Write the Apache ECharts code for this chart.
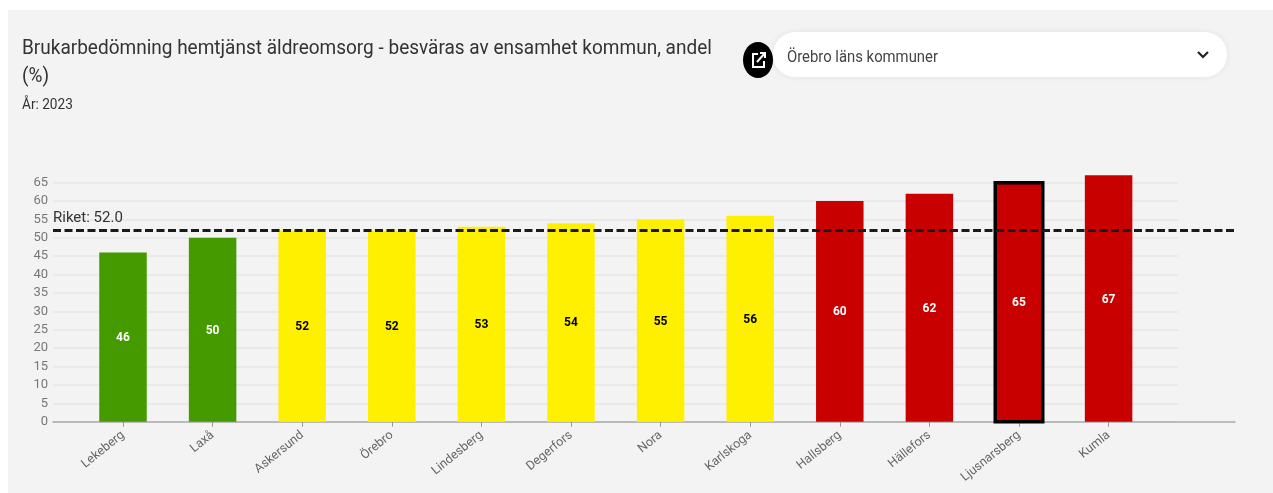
<!DOCTYPE html>
<html>
<head>
<meta charset="utf-8">
<title>Brukarbedömning hemtjänst</title>
<script src="https://cdn.jsdelivr.net/npm/echarts@6/dist/echarts.min.js"></script>
<style>
  html, body { margin: 0; padding: 0; background: #fff; }
  #chart { width: 1273px; height: 493px; }
</style>
</head>
<body>
<div id="chart"></div>
<script>
var kommuner = ['Lekeberg', 'Laxå', 'Askersund', 'Örebro', 'Lindesberg', 'Degerfors', 'Nora', 'Karlskoga', 'Hallsberg', 'Hällefors', 'Ljusnarsberg', 'Kumla'];
var andel = [46, 50, 52, 52, 53, 54, 55, 56, 60, 62, 65, 67];
var farger = ['#459a00', '#459a00', '#fff000', '#fff000', '#fff000', '#fff000', '#fff000', '#fff000', '#c80000', '#c80000', '#c80000', '#c80000'];
var etikettFarger = ['#fff', '#fff', '#000', '#000', '#000', '#000', '#000', '#000', '#fff', '#fff', '#fff', '#fff'];
var valdKommun = 'Ljusnarsberg';
var riket = 52.0;
var titelRad1 = 'Brukarbedömning hemtjänst äldreomsorg - besväras av ensamhet kommun, andel';
var titelRad2 = '(%)';
var undertitel = 'År: 2023';
var dropdownText = 'Örebro läns kommuner';

var font = 'Roboto, sans-serif';
var barBredd = 47.5;
// same vertical extent for all three grids, 0 at y=421.7 and 70 at y=164.3
var gridTop = 164.3, gridBottom = 493 - 421.7;

var barData = andel.map(function (v, i) {
  return {
    value: v,
    itemStyle: { color: farger[i] },
    label: { color: etikettFarger[i] }
  };
});

var valdData = [];
kommuner.forEach(function (k, i) {
  if (k === valdKommun) valdData.push([i, andel[i]]);
});

// the picture is a bit squeezed sideways, so the texts get a scaleX
function texten(text, x, y, size, sx, fill) {
  return {
    type: 'text', z: 6, x: x, y: y, scaleX: sx,
    style: { text: text, fontFamily: font, fontSize: size, fill: fill, verticalAlign: 'middle' }
  };
}

var option = {
  animation: false,
  backgroundColor: '#fff',
  grid: [
    // gridlines, a bit wider than the bars
    { left: 53, width: 1125, top: gridTop, bottom: gridBottom },
    // bars
    { left: 78.2, width: 1075.2, top: gridTop, bottom: gridBottom },
    // baseline and riket line, the full width
    { left: 53, width: 1182, top: gridTop, bottom: gridBottom }
  ],
  xAxis: [
    { gridIndex: 0, type: 'value', min: 0, max: 1, show: false },
    {
      gridIndex: 1, type: 'category', data: kommuner,
      axisLine: { show: false },
      axisTick: { show: true, alignWithLabel: true, length: 5, lineStyle: { color: '#999' } },
      axisLabel: { interval: 0, rotate: 39, margin: 12, fontFamily: font, fontSize: 12.5, color: '#666' }
    },
    {
      gridIndex: 2, type: 'value', min: 0, max: 1,
      axisLine: { show: true, onZero: false, lineStyle: { color: '#aaa', width: 1.5 } },
      axisTick: { show: false }, axisLabel: { show: false }, splitLine: { show: false }
    }
  ],
  yAxis: [
    {
      gridIndex: 0, type: 'value', min: 0, max: 70, interval: 5,
      axisLine: { show: false }, axisTick: { show: false },
      axisLabel: {
        margin: 5, fontFamily: font, fontSize: 13, color: '#777',
        formatter: function (v) { return v > 65 ? '' : v; }
      },
      splitLine: { showMaxLine: false, lineStyle: { color: '#e6e6e6', width: 1.5 } }
    },
    { gridIndex: 1, type: 'value', min: 0, max: 70, show: false },
    { gridIndex: 2, type: 'value', min: 0, max: 70, show: false }
  ],
  series: [
    {
      type: 'bar', xAxisIndex: 1, yAxisIndex: 1, barWidth: barBredd, data: barData, z: 3,
      label: { show: true, position: 'inside', fontFamily: font, fontSize: 12, fontWeight: 'bold', offset: [0, 1] }
    },
    {
      // black frame round the selected municipality
      type: 'custom', xAxisIndex: 1, yAxisIndex: 1, z: 4, clip: false, data: valdData,
      renderItem: function (params, api) {
        var topp = api.coord([api.value(0), api.value(1)]);
        var bas = api.coord([api.value(0), 0]);
        return {
          type: 'rect',
          shape: { x: topp[0] - barBredd / 2, y: topp[1], width: barBredd, height: bas[1] - topp[1] },
          style: { fill: 'none', stroke: '#000', lineWidth: 3.5 }
        };
      }
    },
    {
      type: 'line', xAxisIndex: 2, yAxisIndex: 2, symbol: 'none', z: 5,
      data: [[0, riket], [1, riket]],
      lineStyle: { color: '#1a1a1a', width: 3, type: [8, 3.5] },
      markPoint: {
        symbolSize: 0,
        data: [{ coord: [0, riket], value: 'Riket: ' + riket.toFixed(1) }],
        label: { show: true, position: 'right', offset: [-5, -12], fontFamily: font, fontSize: 15, color: '#333' }
      }
    }
  ],
  graphic: [
    { type: 'rect', z: -10, shape: { x: 8, y: 10, width: 1265, height: 483 }, style: { fill: '#f3f3f3' } },
    texten(titelRad1, 22, 49, 21, 0.905, '#333'),
    texten(titelRad2, 22, 77, 21, 0.905, '#333'),
    texten(undertitel, 22, 105, 15.5, 0.88, '#333'),
    {
      type: 'rect', z: 5,
      shape: { x: 773, y: 32, width: 454, height: 45, r: 22 },
      style: { fill: '#fff', shadowBlur: 6, shadowColor: 'rgba(0,0,0,0.08)' }
    },
    texten(dropdownText, 787, 58, 16.5, 0.9, '#444'),
    {
      type: 'polyline', z: 6,
      shape: { points: [[1198, 52], [1203, 57], [1208, 52]] },
      style: { stroke: '#222', lineWidth: 2.2, fill: 'none' }
    },
    { type: 'ellipse', z: 6, shape: { cx: 758, cy: 60, rx: 15, ry: 18 }, style: { fill: '#000' } },
    {
      type: 'polyline', z: 7,
      shape: { points: [[758, 54], [753, 54], [753, 67], [764, 67], [764, 61]] },
      style: { stroke: '#fff', lineWidth: 2, fill: 'none' }
    },
    { type: 'line', z: 7, shape: { x1: 757, y1: 62, x2: 765, y2: 53 }, style: { stroke: '#fff', lineWidth: 2 } },
    {
      type: 'polyline', z: 7,
      shape: { points: [[760, 53], [765, 53], [765, 58]] },
      style: { stroke: '#fff', lineWidth: 2, fill: 'none' }
    }
  ]
};

var chart = echarts.init(document.getElementById('chart'));
chart.setOption(option);
</script>
</body>
</html>
